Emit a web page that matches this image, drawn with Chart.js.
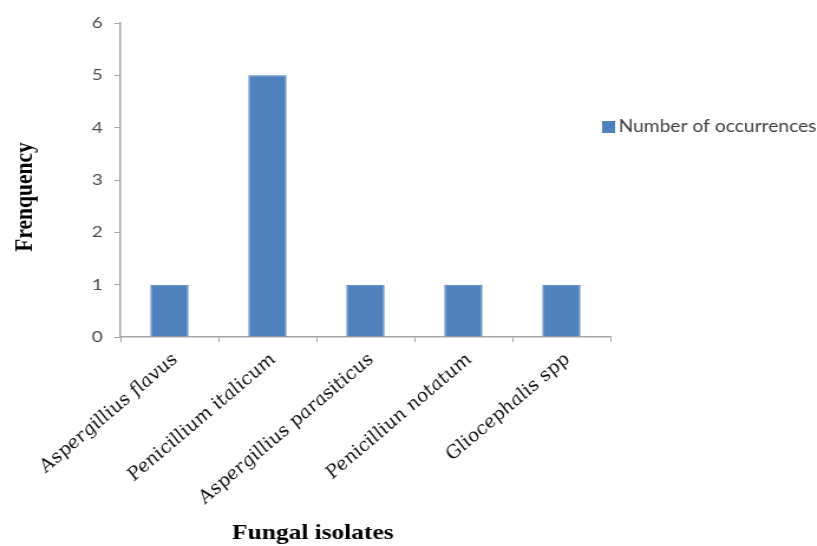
<!DOCTYPE html>
<html>
<head>
<meta charset="utf-8">
<script src="https://cdn.jsdelivr.net/npm/chart.js@4.4.0/dist/chart.umd.min.js"></script>
<style>
  html, body { margin: 0; padding: 0; background: #ffffff; overflow: hidden; }
  /* the figure is laid out at 692px and widened to fill 817px */
  #chart { display: block; transform: scaleX(1.1806); transform-origin: 0 0; }
</style>
</head>
<body>
<canvas id="chart" width="692" height="546"></canvas>
<script>
// Fungal isolates and how often each one was found
const isolates = [
  'Aspergillius flavus',
  'Penicillium italicum',
  'Aspergillius parasiticus',
  'Penicilliun notatum',
  'Gliocephalis spp'
];
const occurrences = [1, 5, 1, 1, 1];
const seriesName = 'Number of occurrences';
const frequencyTicks = [0, 1, 2, 3, 4, 5, 6];
const yAxisTitle = 'Frenquency';
const xAxisTitle = 'Fungal isolates';

const BAR_BLUE = '#4F81BD';
const AXIS_GREY = '#A6A6A6';
const LABEL_GREY = '#4D4D4D';

// Axis titles and the legend entry, drawn on top of the chart
const annotations = {
  id: 'annotations',
  afterDraw(chart) {
    const ctx = chart.ctx;
    ctx.save();
    ctx.fillStyle = '#000000';
    ctx.font = 'bold 21.5px "Liberation Serif", "Times New Roman", serif';
    ctx.textAlign = 'center';
    ctx.textBaseline = 'middle';
    ctx.fillText(xAxisTitle, 265, 533);
    ctx.translate(21, 197);
    ctx.rotate(-Math.PI / 2);
    ctx.fillText(yAxisTitle, 0, 0);
    ctx.restore();

    const ds = chart.data.datasets[0];
    ctx.save();
    ctx.fillStyle = ds.backgroundColor;
    ctx.fillRect(510, 121, 11, 12);
    ctx.fillStyle = '#404040';
    ctx.font = '16.3px Lato, "Open Sans", sans-serif';
    ctx.textAlign = 'left';
    ctx.textBaseline = 'middle';
    ctx.fillText(ds.label, 524, 127);
    ctx.restore();
  }
};

new Chart(document.getElementById('chart'), {
  type: 'bar',
  data: {
    labels: isolates,
    datasets: [{
      label: seriesName,
      data: occurrences,
      backgroundColor: BAR_BLUE,
      borderColor: '#4A7EBB',
      borderWidth: 1,
      barPercentage: 0.39,
      categoryPercentage: 1.0
    }]
  },
  options: {
    responsive: false,
    animation: false,
    devicePixelRatio: 1,
    layout: { padding: { left: 0, top: 23, right: 175, bottom: 0 } },
    plugins: {
      legend: { display: false },
      tooltip: { enabled: false }
    },
    scales: {
      x: {
        grid: {
          display: true,
          offset: true,
          drawOnChartArea: false,
          drawTicks: true,
          tickLength: 5,
          color: AXIS_GREY
        },
        border: { display: true, color: AXIS_GREY, width: 1.5 },
        ticks: {
          autoSkip: false,
          maxRotation: 45,
          minRotation: 45,
          padding: 8,
          labelOffset: 5,
          color: '#111111',
          font: { family: '"DejaVu Serif", "Liberation Serif", serif', style: 'italic', size: 17 }
        },
        afterFit(scale) { scale.height = 209; }
      },
      y: {
        min: frequencyTicks[0],
        max: frequencyTicks[frequencyTicks.length - 1],
        afterBuildTicks(scale) {
          scale.ticks = frequencyTicks.map(v => ({ value: v }));
        },
        grid: {
          display: true,
          drawOnChartArea: false,
          drawTicks: true,
          tickLength: 5,
          color: AXIS_GREY
        },
        border: { display: true, color: AXIS_GREY, width: 1.5 },
        ticks: {
          padding: 10,
          color: LABEL_GREY,
          font: { family: 'Lato, "Open Sans", sans-serif', size: 16 }
        },
        afterFit(scale) { scale.width = 102; }
      }
    }
  },
  plugins: [annotations]
});
</script>
</body>
</html>
